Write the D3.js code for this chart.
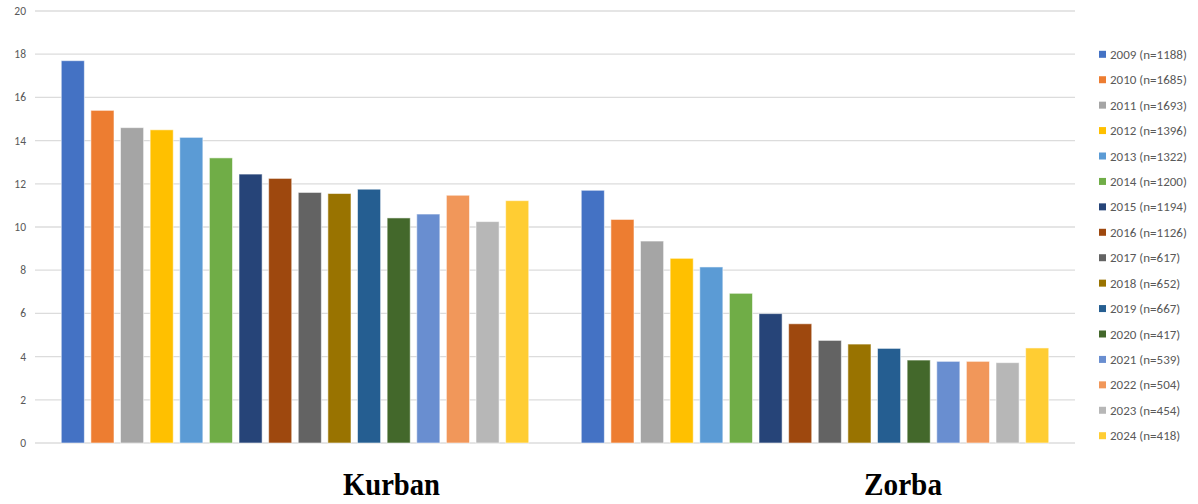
<!DOCTYPE html>
<html>
<head>
<meta charset="utf-8">
<script src="https://cdn.jsdelivr.net/npm/d3@7"></script>
<style>
  html, body { margin: 0; padding: 0; background: #fff; }
  svg { display: block; }
</style>
</head>
<body>
<svg id="chart" width="1198" height="504"></svg>
<script>
// Categories on the x axis
const categories = ["Kurban", "Zorba"];
// Survey years and sample sizes (one series per year)
const years = ["2009","2010","2011","2012","2013","2014","2015","2016","2017","2018","2019","2020","2021","2022","2023","2024"];
const sampleSizes = [1188,1685,1693,1396,1322,1200,1194,1126,617,652,667,417,539,504,454,418];
// Values per category, in year order
const kurbanValues = [17.7,15.4,14.6,14.5,14.15,13.2,12.45,12.25,11.6,11.55,11.75,10.42,10.6,11.47,10.25,11.22];
const zorbaValues  = [11.7,10.35,9.35,8.55,8.15,6.93,5.99,5.52,4.75,4.58,4.38,3.84,3.78,3.78,3.72,4.4];
// Y axis ticks
const yTicks = [0,2,4,6,8,10,12,14,16,18,20];
const colors = ["#4472C4","#ED7D31","#A5A5A5","#FFC000","#5B9BD5","#70AD47","#264478","#9E480E",
                "#636363","#997300","#255E91","#43682B","#698ED0","#F1975A","#B7B7B7","#FFCD33"];

const valuesByCategory = { Kurban: kurbanValues, Zorba: zorbaValues };

const svg = d3.select("#chart");
const plot = { left: 35, right: 1075, top: 11, bottom: 443 };

const y = d3.scaleLinear().domain([0, 20]).range([plot.bottom, plot.top]);
const x0 = d3.scaleBand().domain(categories).range([plot.left, plot.right]).paddingInner(0).paddingOuter(0);
const x1 = d3.scaleBand().domain(years).range([23, x0.bandwidth() - 23]).paddingInner(0.22).paddingOuter(0.11);

// Gridlines
svg.append("g")
  .selectAll("line")
  .data(yTicks)
  .join("line")
  .attr("x1", plot.left).attr("x2", plot.right)
  .attr("y1", d => y(d)).attr("y2", d => y(d))
  .attr("stroke", "#dcdcdc").attr("stroke-width", 1.3);

// Y tick labels
svg.append("g")
  .selectAll("text")
  .data(yTicks)
  .join("text")
  .attr("x", 26).attr("y", d => y(d))
  .attr("dy", "0.35em")
  .attr("text-anchor", "end")
  .attr("font-family", "Calibri, Carlito, 'Open Sans', sans-serif")
  .attr("font-size", 11.5)
  .attr("fill", "#595959")
  .text(d => d);

// Bars
const groups = svg.append("g")
  .selectAll("g")
  .data(categories)
  .join("g")
  .attr("transform", d => `translate(${x0(d)},0)`);

groups.selectAll("rect")
  .data(c => years.map((yr, i) => ({ year: yr, value: valuesByCategory[c][i], color: colors[i] })))
  .join("rect")
  .attr("x", d => x1(d.year))
  .attr("width", x1.bandwidth())
  .attr("y", d => y(d.value))
  .attr("height", d => y(0) - y(d.value))
  .attr("fill", d => d.color)
  .attr("stroke", "#ffffff")
  .attr("stroke-opacity", 0.55)
  .attr("stroke-width", 1);

// Category labels
const catLabels = [
  { name: "Kurban", x: 343, len: 97 },
  { name: "Zorba", x: 864, len: 78 }
];
svg.append("g")
  .selectAll("text")
  .data(catLabels)
  .join("text")
  .attr("x", d => d.x)
  .attr("y", 495)
  .attr("font-family", "'Liberation Serif', 'Times New Roman', serif")
  .attr("font-weight", "bold")
  .attr("font-size", 32)
  .attr("textLength", d => d.len)
  .attr("lengthAdjust", "spacingAndGlyphs")
  .attr("fill", "#000")
  .text(d => d.name);

// Legend
const legendY = d3.scalePoint().domain(years).range([54.3, 435.7]);
const legend = svg.append("g")
  .selectAll("g")
  .data(years)
  .join("g")
  .attr("transform", d => `translate(1099,${legendY(d)})`);
legend.append("rect")
  .attr("x", 0).attr("y", -3.5)
  .attr("width", 7).attr("height", 7)
  .attr("fill", (d, i) => colors[i]);
legend.append("text")
  .attr("x", 11).attr("y", 0)
  .attr("dy", "0.35em")
  .attr("font-family", "Calibri, Carlito, 'Open Sans', sans-serif")
  .attr("font-size", 13)
  .attr("fill", "#595959")
  .text((d, i) => `${d} (n=${sampleSizes[i]})`);
</script>
</body>
</html>
